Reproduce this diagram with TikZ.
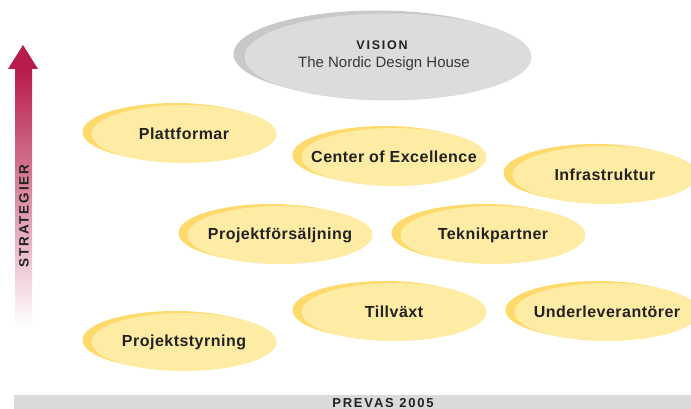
\documentclass[tikz,border=0pt]{standalone}
\usepackage{fontspec}
\setmainfont{Liberation Sans}
\newfontfamily\lblfont[LetterSpace=3]{Liberation Sans}
\newfontfamily\widefont[LetterSpace=14]{Liberation Sans}
\usetikzlibrary{shapes.geometric,shadows}
\definecolor{yfront}{HTML}{FEEBA4}
\definecolor{yshadow}{HTML}{FDDA6B}
\definecolor{gfront}{HTML}{DCDCDC}
\definecolor{gshadow}{HTML}{C8C8C8}
\definecolor{barcol}{HTML}{DADADA}
\definecolor{crimson}{HTML}{B71C4A}
\definecolor{txt}{HTML}{222222}
\newcommand{\zw}[1]{\makebox[0pt]{#1}}
\tikzset{
  pill/.style={ellipse, fill=yfront, minimum width=185pt, minimum height=58pt,
    inner sep=0pt, text=txt,
    font=\lblfont\bfseries\fontsize{16}{18}\selectfont,
    drop shadow={shadow xshift=-9pt, shadow yshift=2pt, fill=yshadow, opacity=1}},
  visionpill/.style={ellipse, fill=gfront, minimum width=287pt, minimum height=87pt,
    inner sep=0pt,
    drop shadow={shadow xshift=-11pt, shadow yshift=3pt, fill=gshadow, opacity=1}},
  vistitle/.style={text=txt, font=\widefont\bfseries\fontsize{12.5}{14}\selectfont},
  vissub/.style={text=txt!90, font=\fontsize{15}{17}\selectfont},
  axislabel/.style={text=txt, font=\widefont\bfseries\fontsize{13.5}{15}\selectfont},
  barlabel/.style={text=txt, inner sep=0pt, font=\widefont\bfseries\fontsize{13}{15}\selectfont},
}
\begin{document}
\begin{tikzpicture}[x=1pt,y=-1pt]
\useasboundingbox (0,0) rectangle (691,409);
% strategy arrow
\shade[top color=crimson, bottom color=white] (15,69) rectangle (32,327);
\fill[crimson] (8,69) -- (23,45) -- (38,69) -- cycle;
\node[axislabel, rotate=90] (strat) at (24,216) {STRATEGIER};
% vision
\node[visionpill] (vision) at (388,57) {};
\node[vistitle] (vistitle) at (382,45) {VISION};
\node[vissub] (vissub) at (384,64) {The Nordic Design House};
% strategies
\node[pill] (plattformar) at (184,134) {\zw{Plattformar}};
\node[pill] (coe) at (394,157) {\zw{Center of Excellence}};
\node[pill] (infra) at (605,175) {\zw{Infrastruktur}};
\node[pill] (projfors) at (280,235) {\zw{Projektförsäljning}};
\node[pill] (teknik) at (493,235) {\zw{Teknikpartner}};
\node[pill] (tillvaxt) at (394,312) {\zw{Tillväxt}};
\node[pill] (underlev) at (607,312) {\zw{Underleverantörer}};
\node[pill] (projstyr) at (184,342) {\zw{Projektstyrning}};
% bottom bar
\fill[barcol] (14,395) rectangle (691,409);
\node[barlabel, anchor=base] (prevas) at (383,407) {PREVAS 2005};
\end{tikzpicture}
\end{document}
